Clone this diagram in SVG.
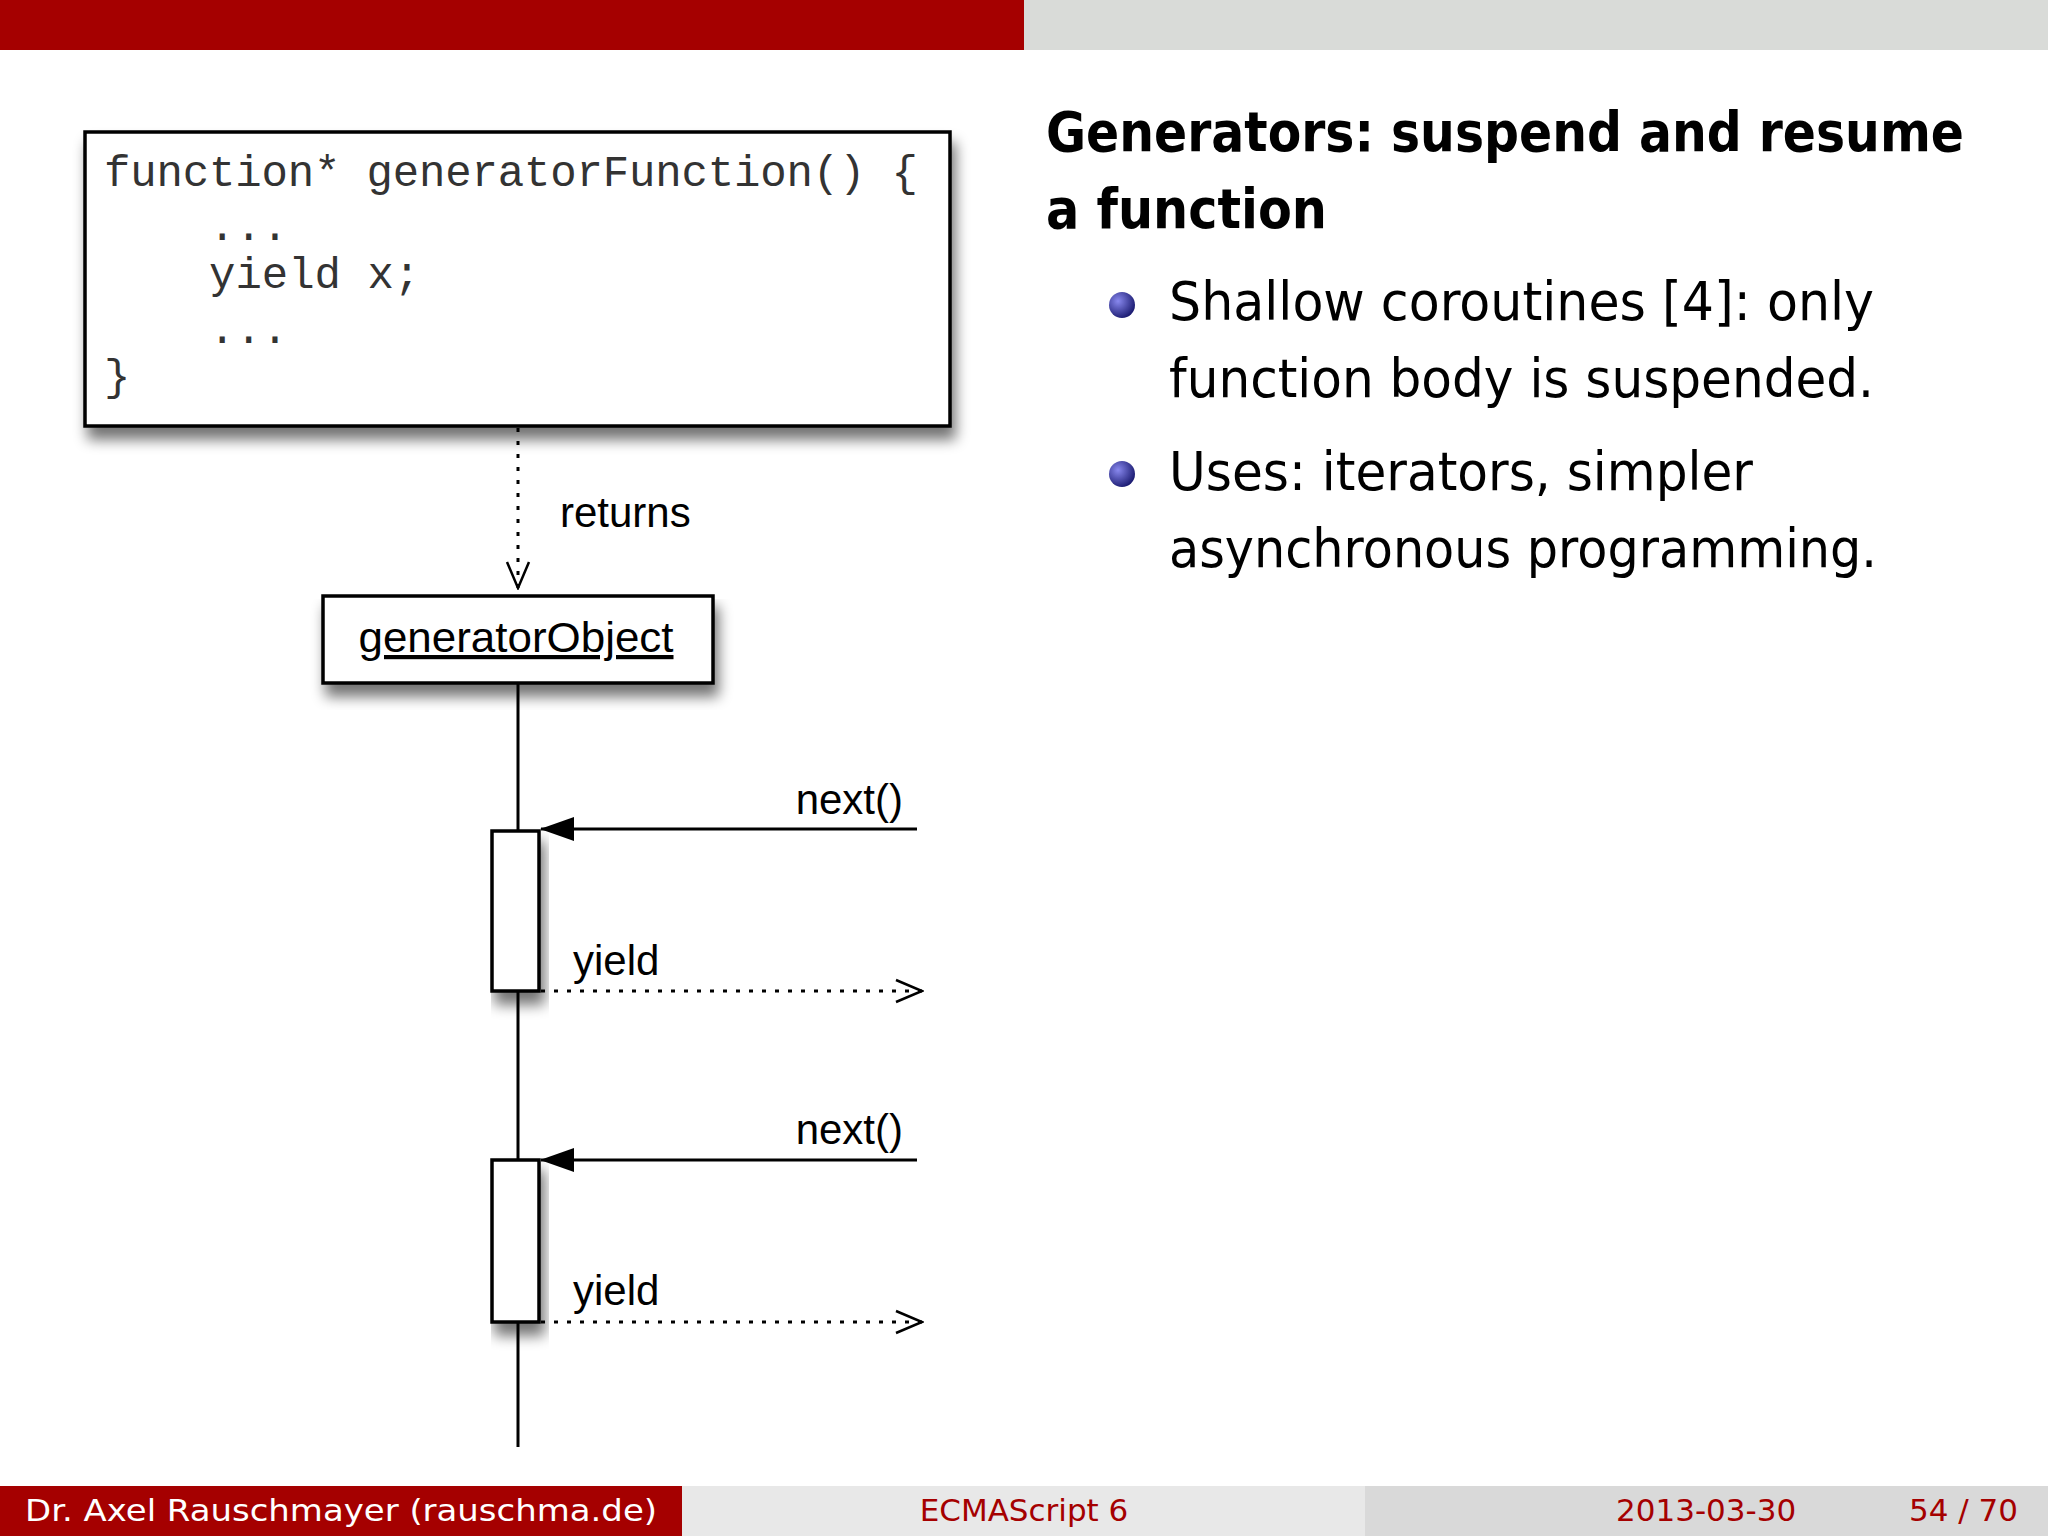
<svg xmlns="http://www.w3.org/2000/svg" width="2048" height="1536" viewBox="0 0 2048 1536">
<defs>
<filter id="sh" x="-10%" y="-10%" width="130%" height="140%"><feGaussianBlur in="SourceAlpha" stdDeviation="7"/><feOffset dx="4" dy="12"/><feComponentTransfer><feFuncA type="linear" slope="0.55"/></feComponentTransfer><feMerge><feMergeNode/><feMergeNode in="SourceGraphic"/></feMerge></filter>
<radialGradient id="ball" cx="0.35" cy="0.35" r="0.7"><stop offset="0" stop-color="#8888ee"/><stop offset="1" stop-color="#1a1a70"/></radialGradient>
<marker id="openv" viewBox="0 0 30 30" refX="28" refY="15" markerWidth="30" markerHeight="30" markerUnits="userSpaceOnUse" orient="auto"><path d="M2,4 L28,15 L2,26" fill="none" stroke="#000" stroke-width="2.5"/></marker>
<marker id="fill" viewBox="0 0 34 30" refX="33" refY="15" markerWidth="34" markerHeight="30" markerUnits="userSpaceOnUse" orient="auto"><path d="M0,3 L34,15 L0,27 Z" fill="#000"/></marker>
</defs>
<style>
.code{font-family:"Liberation Mono",monospace;font-size:44px;fill:#333}
.lbl{font-family:"Liberation Sans",Arial,sans-serif;font-size:42px;fill:#000}
.body{font-family:"DejaVu Sans",sans-serif;font-size:53px;fill:#000}
.title{font-family:"DejaVu Sans",sans-serif;font-size:55px;font-weight:bold;fill:#000}
.foot{font-family:"DejaVu Sans",sans-serif;font-size:31px}
.box{fill:#fff;stroke:#000;stroke-width:3.5}
</style>
<rect width="2048" height="1536" fill="#fff"/>
<rect x="0" y="0" width="1024" height="50" fill="#a50000"/>
<rect x="1024" y="0" width="1024" height="50" fill="#d9dbd8"/>

<g id="code">
<rect class="box" x="85" y="132" width="865" height="294" filter="url(#sh)"/>
<text class="code" x="104" y="186" textLength="814" lengthAdjust="spacing">function* generatorFunction() {</text>
<text class="code" x="209" y="240">...</text>
<text class="code" x="209" y="288">yield x;</text>
<text class="code" x="209" y="343">...</text>
<text class="code" x="104" y="390">}</text>
</g>
<g id="generatorObject">
<rect class="box" x="323" y="596" width="390" height="87" filter="url(#sh)"/>
<text class="lbl" x="516" y="652" text-anchor="middle" text-decoration="underline" textLength="315" lengthAdjust="spacingAndGlyphs">generatorObject</text>
</g>
<g id="connectors" stroke="#000" stroke-width="3" fill="none">
<line x1="518" y1="428" x2="518" y2="588" stroke-dasharray="4,9" marker-end="url(#openv)"/>
<line x1="518" y1="683" x2="518" y2="1447"/>
<line x1="917" y1="829" x2="541" y2="829" marker-end="url(#fill)"/>
<line x1="541" y1="991" x2="922" y2="991" stroke-dasharray="4,9" marker-end="url(#openv)"/>
<line x1="917" y1="1160" x2="541" y2="1160" marker-end="url(#fill)"/>
<line x1="541" y1="1322" x2="922" y2="1322" stroke-dasharray="4,9" marker-end="url(#openv)"/>
</g>
<g id="act1"><rect class="box" x="492" y="831" width="47" height="160" filter="url(#sh)"/></g>
<g id="act2"><rect class="box" x="492" y="1160" width="47" height="162" filter="url(#sh)"/></g>
<g id="labels">
<text class="lbl" x="560" y="527">returns</text>
<text class="lbl" x="903" y="814" text-anchor="end">next()</text>
<text class="lbl" x="573" y="975">yield</text>
<text class="lbl" x="903" y="1144" text-anchor="end">next()</text>
<text class="lbl" x="573" y="1305">yield</text>
</g>

<g id="slide-text">
<text class="title" x="1046" y="151" textLength="918" lengthAdjust="spacingAndGlyphs">Generators: suspend and resume</text>
<text class="title" x="1046" y="228" textLength="281" lengthAdjust="spacingAndGlyphs">a function</text>
<circle cx="1122" cy="305" r="13" fill="url(#ball)"/>
<circle cx="1122" cy="474" r="13" fill="url(#ball)"/>
<text class="body" x="1169" y="320" textLength="705" lengthAdjust="spacingAndGlyphs">Shallow coroutines [4]: only</text>
<text class="body" x="1169" y="397" textLength="705" lengthAdjust="spacingAndGlyphs">function body is suspended.</text>
<text class="body" x="1169" y="490" textLength="584" lengthAdjust="spacingAndGlyphs">Uses: iterators, simpler</text>
<text class="body" x="1169" y="567" textLength="708" lengthAdjust="spacingAndGlyphs">asynchronous programming.</text>
</g>

<g id="footer">
<rect x="0" y="1486" width="682" height="50" fill="#a50000"/>
<rect x="682" y="1486" width="683" height="50" fill="#e8e8e8"/>
<rect x="1365" y="1486" width="683" height="50" fill="#d9d9d9"/>
<text class="foot" x="25" y="1521" fill="#fff" textLength="632" lengthAdjust="spacingAndGlyphs">Dr. Axel Rauschmayer  (rauschma.de)</text>
<text class="foot" x="1024" y="1521" fill="#a50000" text-anchor="middle">ECMAScript 6</text>
<text class="foot" x="1616" y="1521" fill="#a50000">2013-03-30</text>
<text class="foot" x="2018" y="1521" fill="#a50000" text-anchor="end">54 / 70</text>
</g>
</svg>
